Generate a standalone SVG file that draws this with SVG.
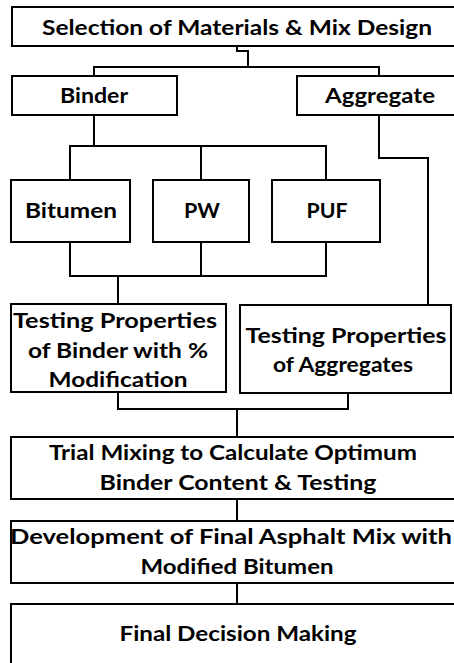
<svg xmlns="http://www.w3.org/2000/svg" width="454" height="663" viewBox="0 0 454 663">
  <style>
    .box { fill: #ffffff; stroke: #000000; stroke-width: 2; }
    .wire { fill: none; stroke: #000000; stroke-width: 2; }
    .lbl { font-family: Lato, "Liberation Sans", sans-serif; font-weight: bold; font-size: 20.5px; fill: #000000; text-anchor: middle; }
  </style>
  <rect width="454" height="663" fill="#ffffff"/>

  <g id="connectors">
    <path class="wire" d="M237 46 V51 H248 V67"/>
    <path class="wire" d="M94 76 V67 H379 V76"/>
    <path class="wire" d="M94 115 V146"/>
    <path class="wire" d="M70 180 V146 H326 V180"/>
    <path class="wire" d="M201 146 V180"/>
    <path class="wire" d="M379 115 V158 H428 V305"/>
    <path class="wire" d="M70 242 V276 H326 V242"/>
    <path class="wire" d="M201 242 V276"/>
    <path class="wire" d="M118 276 V304"/>
    <path class="wire" d="M118 392 V409 H348 V393"/>
    <path class="wire" d="M237 409 V437"/>
    <path class="wire" d="M237 499 V521"/>
    <path class="wire" d="M237 583 V604"/>
  </g>

  <g id="selection">
    <rect class="box" x="12" y="7" width="450" height="39"/>
    <text class="lbl" x="237" y="35" textLength="390" lengthAdjust="spacingAndGlyphs">Selection of Materials &amp; Mix Design</text>
  </g>

  <g id="binder">
    <rect class="box" x="12" y="76" width="165" height="39"/>
    <text class="lbl" x="94" y="103" textLength="68" lengthAdjust="spacingAndGlyphs">Binder</text>
  </g>

  <g id="aggregate">
    <rect class="box" x="297" y="76" width="165" height="39"/>
    <text class="lbl" x="380" y="103" textLength="110" lengthAdjust="spacingAndGlyphs">Aggregate</text>
  </g>

  <g id="bitumen">
    <rect class="box" x="11" y="180" width="119" height="62"/>
    <text class="lbl" x="71" y="218" textLength="92" lengthAdjust="spacingAndGlyphs">Bitumen</text>
  </g>

  <g id="pw">
    <rect class="box" x="153" y="180" width="96" height="62"/>
    <text class="lbl" x="202" y="218" textLength="36" lengthAdjust="spacingAndGlyphs">PW</text>
  </g>

  <g id="puf">
    <rect class="box" x="272" y="180" width="108" height="62"/>
    <text class="lbl" x="327" y="218" textLength="41" lengthAdjust="spacingAndGlyphs">PUF</text>
  </g>

  <g id="binder-testing">
    <rect class="box" x="11" y="304" width="215" height="88"/>
    <text class="lbl" x="115" y="328" textLength="204" lengthAdjust="spacingAndGlyphs">Testing Properties</text>
    <text class="lbl" x="118" y="358" textLength="180" lengthAdjust="spacingAndGlyphs">of Binder with %</text>
    <text class="lbl" x="118" y="387" textLength="139" lengthAdjust="spacingAndGlyphs">Modification</text>
  </g>

  <g id="aggregate-testing">
    <rect class="box" x="240" y="305" width="211" height="88"/>
    <text class="lbl" x="346" y="343" textLength="201" lengthAdjust="spacingAndGlyphs">Testing Properties</text>
    <text class="lbl" x="343" y="372" textLength="140" lengthAdjust="spacingAndGlyphs">of Aggregates</text>
  </g>

  <g id="trial-mixing">
    <rect class="box" x="11" y="437" width="451" height="62"/>
    <text class="lbl" x="233" y="460" textLength="368" lengthAdjust="spacingAndGlyphs">Trial Mixing to Calculate Optimum</text>
    <text class="lbl" x="238" y="490" textLength="277" lengthAdjust="spacingAndGlyphs">Binder Content &amp; Testing</text>
  </g>

  <g id="final-mix">
    <rect class="box" x="11" y="521" width="451" height="62"/>
    <text class="lbl" x="231" y="544" textLength="442" lengthAdjust="spacingAndGlyphs">Development of Final Asphalt Mix with</text>
    <text class="lbl" x="237" y="574" textLength="193" lengthAdjust="spacingAndGlyphs">Modified Bitumen</text>
  </g>

  <g id="decision">
    <rect class="box" x="11" y="604" width="451" height="70"/>
    <text class="lbl" x="238" y="641" textLength="237" lengthAdjust="spacingAndGlyphs">Final Decision Making</text>
  </g>
</svg>
